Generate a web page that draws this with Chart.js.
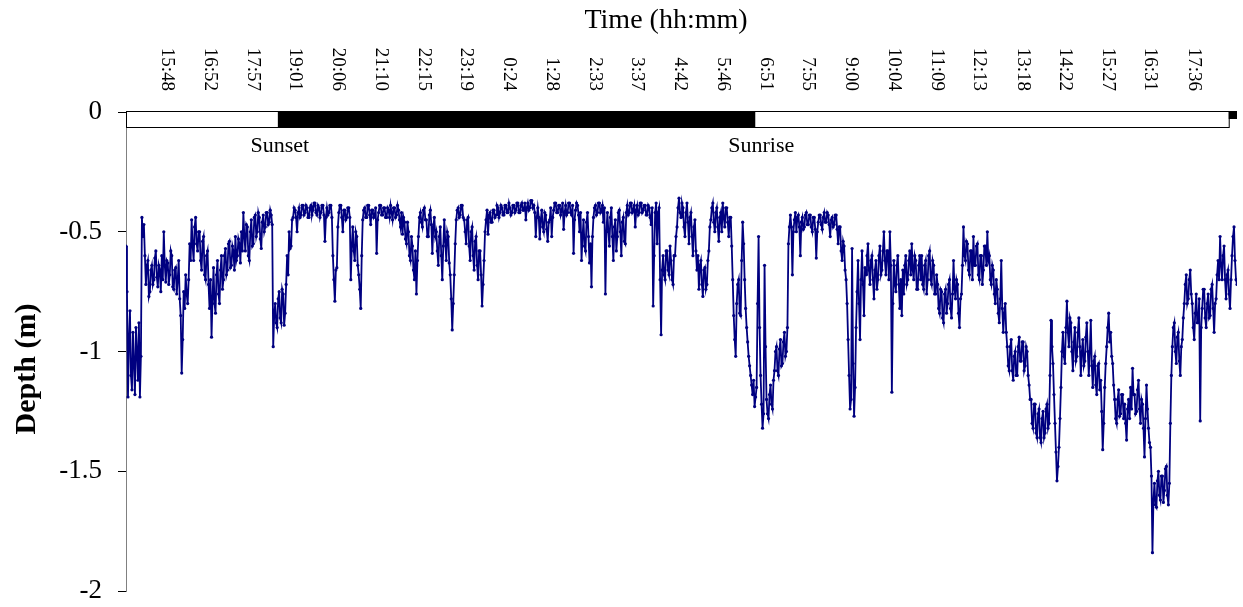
<!DOCTYPE html>
<html>
<head>
<meta charset="utf-8">
<script src="https://cdn.jsdelivr.net/npm/chart.js@4.4.1/dist/chart.umd.min.js"></script>
<style>
  html, body { margin: 0; padding: 0; background: #fff; }
</style>
</head>
<body>
<canvas id="depthChart" width="1243" height="607"></canvas>
<script>
// sampling: first record and interval (minutes)
const START_TIME = '14:46';
const SAMPLE_MINUTES = 1.5;

const TICK_LABELS = ['15:48', '16:52', '17:57', '19:01', '20:06', '21:10', '22:15', '23:19',
    '0:24', '1:28', '2:33', '3:37', '4:42', '5:46', '6:51', '7:55', '9:00', '10:04',
    '11:09', '12:13', '13:18', '14:22', '15:27', '16:31', '17:36'];

const SUNSET = '18:35';
const SUNRISE = '6:35';
const NEXT_SUNSET = '18:29';

// depth (m), one value per sample
const DEPTH = [
    -0.56, -0.75, -1.19, -0.95, -0.83, -1.10, -1.16, -0.92, -1.05, -1.18, -0.90, -1.00, -1.12, -0.88, -1.19, -1.02, -0.44, -0.52,
    -0.47, -0.60, -0.72, -0.64, -0.62, -0.77, -0.75, -0.66, -0.64, -0.72, -0.70, -0.61, -0.58, -0.69, -0.73, -0.64, -0.66, -0.75,
    -0.60, -0.70, -0.50, -0.64, -0.71, -0.62, -0.63, -0.72, -0.68, -0.58, -0.60, -0.73, -0.74, -0.66, -0.65, -0.76, -0.70, -0.62,
    -0.78, -0.85, -1.09, -0.95,
    -0.75, -0.82, -0.68, -0.76, -0.80, -0.70, -0.55, -0.62, -0.45, -0.56, -0.62, -0.48, -0.44, -0.55, -0.58, -0.50, -0.50, -0.62,
    -0.66, -0.54, -0.52, -0.68, -0.70, -0.60, -0.58, -0.72, -0.82, -0.70,
    -0.94, -0.78, -0.65, -0.80, -0.84, -0.68, -0.62, -0.76, -0.80, -0.66, -0.60, -0.74,
    -0.70, -0.60, -0.57, -0.68, -0.66, -0.55, -0.54, -0.65, -0.64, -0.56, -0.58, -0.66, -0.52, -0.62, -0.60, -0.53, -0.55, -0.63,
    -0.50, -0.58,
    -0.42, -0.52, -0.58, -0.47, -0.48, -0.60, -0.62, -0.50, -0.45, -0.56, -0.55, -0.44, -0.43, -0.52, -0.50, -0.42, -0.44, -0.53,
    -0.57, -0.46, -0.43, -0.50, -0.48, -0.42, -0.42, -0.47, -0.46, -0.41, -0.43, -0.47,
    -0.98, -0.85, -0.80, -0.88, -0.90, -0.78, -0.75, -0.86, -0.88, -0.74, -0.76, -0.89, -0.84, -0.72,
    -0.60, -0.68, -0.50, -0.57, -0.56, -0.45,
    -0.44, -0.40, -0.41, -0.44, -0.50, -0.42, -0.40, -0.44, -0.43, -0.39, -0.39, -0.43, -0.42, -0.39, -0.40, -0.44, -0.44, -0.40,
    -0.39, -0.43, -0.41, -0.38, -0.38, -0.42, -0.43, -0.39, -0.40, -0.44, -0.42, -0.39, -0.39, -0.43, -0.54, -0.44, -0.40, -0.43,
    -0.42, -0.39,
    -0.39, -0.44, -0.60, -0.70, -0.79, -0.66, -0.65, -0.48,
    -0.42, -0.39, -0.39, -0.44, -0.50, -0.41, -0.41, -0.45, -0.44, -0.40, -0.40, -0.44,
    -0.70, -0.56,
    -0.48, -0.58, -0.62, -0.50, -0.52, -0.64, -0.68, -0.74, -0.82, -0.60, -0.45, -0.41,
    -0.40, -0.44, -0.44, -0.39, -0.39, -0.43, -0.47, -0.41, -0.41, -0.44, -0.43, -0.40, -0.59, -0.45,
    -0.42, -0.39, -0.39, -0.43, -0.43, -0.40, -0.40, -0.44, -0.44, -0.40, -0.41, -0.44, -0.39, -0.42, -0.45, -0.40, -0.40, -0.44,
    -0.43, -0.39, -0.41, -0.45, -0.48, -0.42, -0.51, -0.44,
    -0.46, -0.53, -0.55, -0.46, -0.50, -0.60, -0.62, -0.52, -0.56, -0.66, -0.70, -0.58, -0.76, -0.62, -0.52, -0.44,
    -0.42, -0.46, -0.48, -0.41, -0.40, -0.45, -0.45, -0.52, -0.52, -0.43, -0.41, -0.47, -0.59, -0.48, -0.44, -0.52, -0.50, -0.58,
    -0.64, -0.52, -0.48, -0.60, -0.70, -0.56, -0.45, -0.54, -0.62, -0.50, -0.52, -0.63, -0.68, -0.78, -0.91, -0.80,
    -0.68, -0.55, -0.45, -0.41, -0.40, -0.44, -0.43, -0.39, -0.39, -0.44, -0.45, -0.50,
    -0.55, -0.45, -0.44, -0.56, -0.62, -0.50, -0.48, -0.60, -0.66, -0.54, -0.52, -0.64, -0.70, -0.58, -0.58, -0.68, -0.81, -0.72,
    -0.62, -0.50,
    -0.45, -0.41, -0.51, -0.43, -0.42, -0.46, -0.46, -0.41, -0.41, -0.44, -0.43, -0.39, -0.40, -0.44, -0.42, -0.39, -0.40, -0.43,
    -0.43, -0.39, -0.39, -0.42, -0.42, -0.38, -0.40, -0.43, -0.42, -0.39, -0.39, -0.42, -0.41, -0.38, -0.38, -0.42, -0.42, -0.39,
    -0.38, -0.41, -0.41, -0.38, -0.45, -0.40,
    -0.38, -0.41, -0.40, -0.37, -0.37, -0.40, -0.39, -0.42, -0.52, -0.44,
    -0.40, -0.44, -0.53, -0.45, -0.41, -0.48, -0.50, -0.42, -0.43, -0.49, -0.54, -0.46, -0.45, -0.40, -0.52, -0.44, -0.41, -0.38,
    -0.38, -0.42, -0.42, -0.39, -0.39, -0.43, -0.41, -0.38, -0.49, -0.42, -0.39, -0.43, -0.42, -0.38, -0.38, -0.42, -0.43, -0.39,
    -0.59, -0.45, -0.41, -0.38, -0.39, -0.43,
    -0.50, -0.42, -0.62, -0.52, -0.45, -0.56, -0.58, -0.46, -0.42, -0.52, -0.63, -0.55, -0.73, -0.52, -0.44, -0.40,
    -0.39, -0.43, -0.42, -0.38, -0.38, -0.42, -0.41, -0.39, -0.46, -0.40, -0.76, -0.50,
    -0.42, -0.50, -0.56, -0.44, -0.40, -0.52, -0.62, -0.48, -0.45, -0.58, -0.52, -0.42, -0.41, -0.50, -0.60, -0.46, -0.44, -0.54,
    -0.55, -0.42,
    -0.39, -0.43, -0.42, -0.38, -0.38, -0.42, -0.41, -0.39, -0.48, -0.41, -0.39, -0.43, -0.42, -0.38, -0.38, -0.42, -0.41, -0.39,
    -0.39, -0.43, -0.43, -0.39, -0.40, -0.44, -0.47, -0.40, -0.81, -0.60,
    -0.42, -0.38, -0.55, -0.42, -0.40, -0.70, -0.93, -0.66,
    -0.60, -0.68, -0.70, -0.58, -0.58, -0.66, -0.68, -0.56, -0.62, -0.70, -0.72, -0.60, -0.60, -0.52,
    -0.48, -0.40, -0.36, -0.42, -0.44, -0.38, -0.40, -0.48, -0.52, -0.42,
    -0.38, -0.46, -0.55, -0.44, -0.42, -0.52, -0.60, -0.48, -0.45, -0.58,
    -0.66, -0.60, -0.74, -0.64, -0.62, -0.72, -0.77, -0.66, -0.65, -0.74, -0.72, -0.62, -0.58, -0.48,
    -0.45, -0.40, -0.38, -0.46, -0.50, -0.42, -0.40, -0.48, -0.54, -0.44, -0.42, -0.50, -0.38, -0.44, -0.48, -0.40, -0.40, -0.46,
    -0.52, -0.44, -0.44, -0.56,
    -0.70, -0.85, -0.95, -1.02,
    -0.80, -0.72, -0.70, -0.84, -0.85, -0.62, -0.46, -0.55,
    -0.70, -0.82, -0.90, -0.96, -1.02, -1.06, -1.10, -1.14, -1.18, -1.12, -1.23, -1.19, -1.15, -0.80,
    -0.52, -0.90,
    -1.10, -1.22, -1.32, -1.26,
    -0.64, -0.98,
    -1.20, -1.26, -1.28, -1.18, -1.14, -1.22, -1.24, -1.12,
    -1.08, -1.00, -0.98, -1.08, -1.10, -0.99, -0.95, -1.06, -1.05, -0.96, -0.92, -1.02, -1.00, -0.90,
    -0.55, -0.48, -0.43, -0.48,
    -0.68, -0.50, -0.45, -0.42, -0.50, -0.44, -0.43, -0.48, -0.60, -0.46, -0.44, -0.49, -0.48, -0.43, -0.42, -0.47, -0.47, -0.43,
    -0.43, -0.48, -0.50, -0.44, -0.44, -0.49, -0.61, -0.50, -0.46, -0.43, -0.43, -0.47, -0.49, -0.44, -0.42, -0.46, -0.46, -0.42,
    -0.43, -0.47, -0.52, -0.45, -0.44, -0.48, -0.47, -0.43, -0.43, -0.49,
    -0.55, -0.48, -0.48, -0.58, -0.62, -0.54, -0.56, -0.66, -0.70, -0.80,
    -0.95, -1.10, -1.24, -1.20, -0.57, -1.05, -1.27, -1.15, -0.90, -0.75,
    -0.62, -0.80, -0.95, -0.70, -0.58, -0.72, -0.85, -0.65, -0.68, -0.60,
    -0.55, -0.66, -0.72, -0.62, -0.60, -0.70, -0.78, -0.66, -0.62, -0.74, -0.70, -0.60, -0.56, -0.68, -0.66, -0.58, -0.50, -0.62,
    -0.68, -0.58, -0.58, -0.70, -0.50, -0.64, -1.17, -0.80, -0.62, -0.72, -0.75, -0.64, -0.60, -0.72, -0.82, -0.70, -0.85, -0.66,
    -0.76, -0.64, -0.60, -0.72, -0.70, -0.62, -0.58, -0.68, -0.55, -0.66, -0.70, -0.60, -0.62, -0.74, -0.74, -0.64, -0.60, -0.70,
    -0.60, -0.72, -0.74, -0.64, -0.62, -0.76, -0.70, -0.60, -0.58, -0.70, -0.72, -0.62, -0.64, -0.76, -0.76, -0.68,
    -0.72, -0.82, -0.84, -0.74, -0.75, -0.86, -0.88, -0.76, -0.74, -0.84, -0.80, -0.72, -0.70, -0.82, -0.86, -0.76, -0.62, -0.74,
    -0.78, -0.70, -0.72, -0.84, -0.90, -0.78, -0.76, -0.64,
    -0.48, -0.60, -0.62, -0.54, -0.55, -0.66, -0.68, -0.58, -0.58, -0.70, -0.52, -0.64, -0.64, -0.56, -0.55, -0.68, -0.70, -0.60,
    -0.60, -0.72, -0.66, -0.56, -0.56, -0.64, -0.50, -0.62,
    -0.60, -0.70, -0.72, -0.64, -0.66, -0.76, -0.80, -0.70, -0.74, -0.84, -0.88, -0.78, -0.62, -0.82, -0.92, -0.84, -0.80, -0.92,
    -0.98, -1.06, -1.08, -0.98, -0.95, -1.08, -1.12, -1.02, -1.00, -1.10, -1.10, -0.98, -0.94, -1.04, -1.04, -0.96, -0.96, -1.08,
    -1.06, -0.98, -1.00, -1.10, -1.14, -1.20,
    -1.20, -1.30, -1.32, -1.22, -1.22, -1.34, -1.36, -1.26, -1.24, -1.36, -1.38, -1.28, -1.25, -1.36, -1.34, -1.24, -1.22, -1.32,
    -1.30, -1.10,
    -0.87, -0.98, -1.05, -1.18, -1.30, -1.42, -1.54, -1.48, -1.40, -1.28, -1.15, -1.00,
    -0.92, -1.02, -1.05, -0.90, -0.79, -0.92, -0.98, -0.86, -0.88, -1.00, -1.08, -0.96, -0.90, -1.04, -1.02, -0.92, -0.86, -0.98,
    -1.10, -1.00, -0.95, -1.06, -1.04, -0.94, -0.88, -1.00,
    -1.10, -1.00, -0.87, -1.06, -1.15, -1.04, -1.02, -1.14, -1.18, -1.06, -1.05, -1.16, -1.12, -1.25,
    -1.41, -1.30, -1.15, -1.05, -0.98, -0.90, -0.84, -0.96, -0.92, -1.02, -1.05, -1.14,
    -1.20, -1.28, -1.30, -1.20, -1.16, -1.27, -1.26, -1.18, -1.18, -1.28, -1.22, -1.30, -1.37, -1.24, -1.20, -1.28, -1.15, -1.24,
    -1.07, -1.18, -1.18, -1.26, -1.25, -1.16, -1.12, -1.24, -1.30, -1.20, -1.22, -1.32, -1.44, -1.28, -1.14, -1.24, -1.32, -1.38,
    -1.40, -1.52, -1.84, -1.62, -1.55, -1.64, -1.65, -1.54, -1.50, -1.60, -1.62, -1.52, -1.52, -1.63, -1.58, -1.49, -1.48, -1.60,
    -1.64, -1.55,
    -1.30, -1.10, -0.98, -0.90,
    -0.88, -1.00, -1.05, -0.94, -0.92, -1.04, -1.10, -0.98, -0.95, -0.86,
    -0.80, -0.72, -0.68, -0.80, -0.78, -0.70, -0.66, -0.76,
    -0.80, -0.90, -0.95, -0.84, -0.76, -0.88, -0.88, -0.78, -1.29, -0.90, -0.82, -0.74, -0.74, -0.86, -0.90, -0.80, -0.76, -0.86,
    -0.85, -0.74, -0.72, -0.82, -0.92, -0.80, -0.78, -0.68,
    -0.62, -0.70, -0.52, -0.64, -0.70, -0.60, -0.56, -0.70, -0.78, -0.68, -0.66, -0.76, -0.82, -0.70, -0.60, -0.52, -0.48, -0.62,
    -0.70, -0.72
];

const NAVY = '#000080';
const SERIF = '"Times New Roman", "Liberation Serif", serif';

function toMinutes(label) {
    const [h, m] = label.split(':').map(Number);
    return h * 60 + m;
}

const startMin = toMinutes(START_TIME);
const endMin = startMin + (DEPTH.length - 1) * SAMPLE_MINUTES;

// after midnight the clock restarts, so push the time a day on
function after(label, ref) {
    let m = toMinutes(label);
    while (m < ref) m += 1440;
    return m;
}

const tickMinutes = [];
TICK_LABELS.forEach(label => {
    const prev = tickMinutes.length ? tickMinutes[tickMinutes.length - 1] : startMin;
    tickMinutes.push(after(label, prev));
});

const sunsetMin = after(SUNSET, startMin);
const sunriseMin = after(SUNRISE, sunsetMin);
const nextSunsetMin = after(NEXT_SUNSET, sunriseMin);

const points = DEPTH.map((d, i) => ({ x: startMin + i * SAMPLE_MINUTES, y: d }));

const overlay = {
    id: 'overlay',
    afterDraw(chart) {
        const { ctx, chartArea, scales: { x, y } } = chart;
        ctx.save();
        ctx.fillStyle = '#000';

        // axis title on top
        ctx.font = '28px ' + SERIF;
        ctx.textAlign = 'center';
        ctx.textBaseline = 'alphabetic';
        ctx.fillText('Time (hh:mm)', 666, 28);

        // time labels, turned to read downwards
        ctx.font = '19px ' + SERIF;
        tickMinutes.forEach((m, i) => {
            ctx.save();
            ctx.translate(x.getPixelForValue(m), 91);
            ctx.rotate(Math.PI / 2);
            ctx.textAlign = 'right';
            ctx.textBaseline = 'middle';
            ctx.fillText(TICK_LABELS[i], 0, 0);
            ctx.restore();
        });

        // day / night strip
        const top = y.getPixelForValue(0) - 1;
        const bottom = top + 16;
        const xs = x.getPixelForValue(sunsetMin);
        const xr = x.getPixelForValue(sunriseMin);
        const xn = x.getPixelForValue(nextSunsetMin);
        ctx.fillStyle = '#fff';
        ctx.fillRect(chartArea.left, top, xn - chartArea.left, bottom - top);
        ctx.strokeStyle = '#000';
        ctx.lineWidth = 1;
        ctx.strokeRect(chartArea.left + 0.5, top + 0.5, xn - chartArea.left, bottom - top);
        ctx.fillStyle = '#000';
        ctx.fillRect(xs, top, xr - xs, bottom - top + 1);
        ctx.fillRect(xn, top, chartArea.right - xn, (bottom - top) / 2);

        ctx.font = '22px ' + SERIF;
        ctx.textAlign = 'center';
        ctx.fillText('Sunset', xs + 2, 152);
        ctx.fillText('Sunrise', xr + 6, 152);

        // y title
        ctx.save();
        ctx.translate(27, 369);
        ctx.rotate(-Math.PI / 2);
        ctx.font = 'bold 30px ' + SERIF;
        ctx.textAlign = 'center';
        ctx.textBaseline = 'middle';
        ctx.fillText('Depth (m)', 0, 0);
        ctx.restore();

        ctx.restore();
    }
};

new Chart(document.getElementById('depthChart').getContext('2d'), {
    type: 'line',
    data: {
        datasets: [{
            data: points,
            borderColor: NAVY,
            backgroundColor: NAVY,
            borderWidth: 1.8,
            pointRadius: 1.6,
            pointBorderWidth: 0,
            pointBackgroundColor: NAVY,
            pointHoverRadius: 0,
            tension: 0,
            fill: false,
        }]
    },
    options: {
        responsive: false,
        animation: false,
        devicePixelRatio: 1,
        layout: { padding: { top: 112, right: 6, bottom: 16, left: 0 } },
        plugins: { legend: { display: false }, tooltip: { enabled: false } },
        scales: {
            x: { type: 'linear', display: false, min: startMin, max: endMin },
            y: {
                min: -2,
                max: 0,
                ticks: {
                    stepSize: 0.5,
                    color: '#000',
                    padding: 16,
                    font: { family: SERIF, size: 27 },
                    callback: v => String(v)
                },
                grid: { drawOnChartArea: false, drawTicks: true, tickLength: 8, color: '#000' },
                border: { color: '#808080' },
                afterFit(scale) {
                    scale.width = 126;
                    scale.paddingTop = 16;
                    scale.paddingBottom = 16;
                }
            }
        }
    },
    plugins: [overlay]
});
</script>
</body>
</html>
